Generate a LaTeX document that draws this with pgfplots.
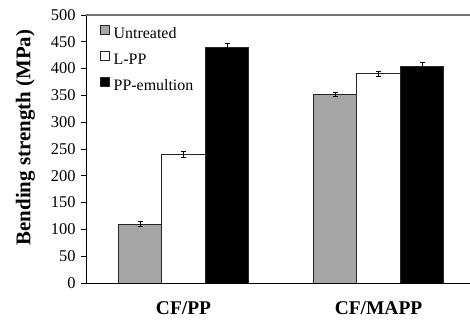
\documentclass[border=0pt]{standalone}
\usepackage{fontspec}
\setmainfont{Liberation Serif}
\usepackage{pgfplots}
\pgfplotsset{compat=1.18}
\definecolor{barg}{RGB}{166,166,166}
\begin{document}
\begin{tikzpicture}
\useasboundingbox (0,0) rectangle (470bp,320bp);
\begin{axis}[
  at={(86bp,37bp)}, anchor=south west,
  scale only axis, width=384bp, height=268bp,
  xmin=0.5, xmax=2.469, ymin=0, ymax=500,
  ybar=0pt, bar width=43.5bp,
  axis x line*=bottom, axis y line*=left,
  axis line style={-, line width=1bp, black},
  x axis line style={-}, y axis line style={-},
  ytick={0,50,...,500},
  tick align=outside, major tick length=5bp, minor tick length=5.5bp,
  tick style={black, line width=0.8bp},
  xtick={1,2}, xticklabels={CF/PP,CF/MAPP},
  xtick style={draw=none},
  minor xtick={0.5,1.5},
  xticklabel style={font=\bfseries\fontsize{19.5}{22}\selectfont, yshift=-10bp},
  yticklabel style={font=\fontsize{16.5}{18}\selectfont, xshift=-2bp},
  /pgf/number format/assume math mode=true,
  ylabel={Bending strength (MPa)},
  every axis y label/.style={at={(axis description cs:-0.158,0.543)}, rotate=90, anchor=center, font=\bfseries\fontsize{21}{24}\selectfont},
  legend style={at={(axis description cs:0.035,0.962)}, anchor=north west, draw=none, fill=none,
    font=\fontsize{16}{18}\selectfont, inner sep=0pt, row sep=11bp, column sep=4bp,
    nodes={inner sep=0pt, text height=11bp, text depth=2bp}},
  legend cell align=left,
  mylegend/.style={legend image code/.code={\draw[##1,/tikz/.cd, line width=1bp] (0bp,-0.5bp) rectangle (9bp,8bp);}},
  error bars/y dir=both, error bars/y explicit,
  error bars/error bar style={line width=0.8bp, black},
  error bars/error mark options={rotate=90, mark size=2.5bp, line width=0.8bp, black},
]
\addplot[fill=barg, draw=black!85, line width=1bp, mylegend] coordinates {(1,110) +- (0,5) (2,352) +- (0,4)};
\addplot[fill=white, draw=black!85, line width=1bp, mylegend] coordinates {(1,240) +- (0,5) (2,390) +- (0,4)};
\addplot[fill=black, draw=black!85, line width=1bp, mylegend] coordinates {(1,439) +- (0,8) (2,404) +- (0,8)};
\legend{Untreated, L-PP, PP-emultion}
\draw[black!55, line width=1.3bp] (rel axis cs:0,1) -- (rel axis cs:1,1);
\end{axis}
\end{tikzpicture}
\end{document}
